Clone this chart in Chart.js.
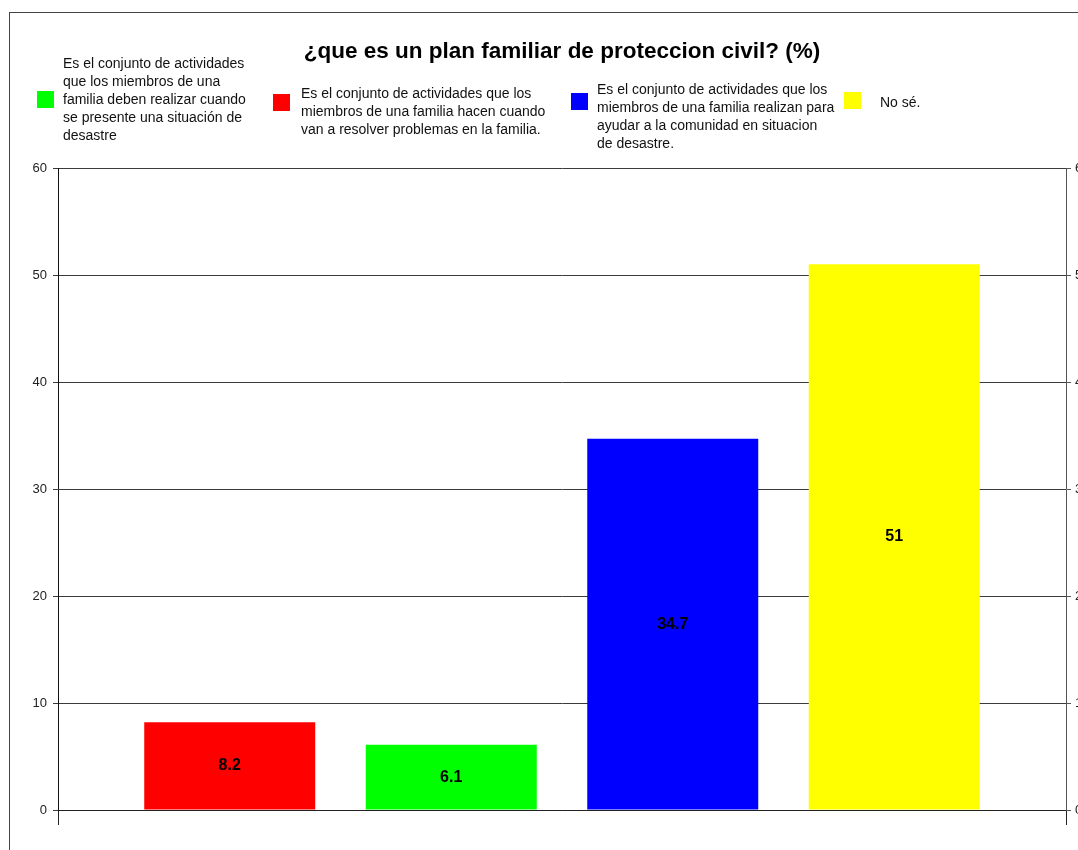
<!DOCTYPE html>
<html>
<head>
<meta charset="utf-8">
<script src="https://cdn.jsdelivr.net/npm/chart.js@4/dist/chart.umd.min.js"></script>
<style>
    body { margin: 0; overflow: hidden; background: #fff; font-family: "Liberation Sans", Arial, sans-serif; }
    #wrap { position: relative; width: 1078px; height: 850px; }
    #frame { position: absolute; left: 9px; top: 12px; right: 0; bottom: 0; border-left: 1px solid #444; border-top: 1px solid #444; pointer-events: none; }
    #chart { position: absolute; left: 0; top: 0; }
    .leg-box { position: absolute; width: 17px; height: 17px; }
    .leg-text { position: absolute; font-size: 14px; line-height: 18px; color: #111; white-space: nowrap; }
</style>
</head>
<body>
<div id="wrap">
    <canvas id="chart" width="1078" height="850"></canvas>
    <div id="frame"></div>
    <div id="legend"></div>
</div>
<script>
// datos del grafico
var categories = [''];
var seriesLabels = [
    ['Es el conjunto de actividades que los', 'miembros de una familia hacen cuando', 'van a resolver problemas en la familia.'],
    ['Es el conjunto de actividades', 'que los miembros de una', 'familia deben realizar cuando', 'se presente una situación de', 'desastre'],
    ['Es el conjunto de actividades que los', 'miembros de una familia realizan para', 'ayudar a la comunidad en situacion', 'de desastre.'],
    ['No sé.']
];
var seriesValues = [8.2, 6.1, 34.7, 51];
var seriesColors = ['#ff0000', '#00ff00', '#0000ff', '#ffff00'];
var legendOrder = [1, 0, 2, 3];
var yTickMin = 0;
var yTickMax = 60;
var yTickStep = 10;

// posicion de cada entrada de la leyenda (caja y texto)
var legendPos = [
    { bx: 37, by: 91, tx: 63, ty: 54 },
    { bx: 273, by: 94, tx: 301, ty: 84 },
    { bx: 571, by: 93, tx: 597, ty: 80 },
    { bx: 844, by: 92, tx: 880, ty: 93 }
];

function buildLegend() {
    var legend = document.getElementById('legend');
    legendOrder.forEach(function (idx, i) {
        var p = legendPos[i];
        var box = document.createElement('div');
        box.className = 'leg-box';
        box.style.left = p.bx + 'px';
        box.style.top = p.by + 'px';
        box.style.background = seriesColors[idx];
        legend.appendChild(box);

        var txt = document.createElement('div');
        txt.className = 'leg-text';
        txt.style.left = p.tx + 'px';
        txt.style.top = p.ty + 'px';
        txt.innerHTML = seriesLabels[idx].join('<br>');
        legend.appendChild(txt);
    });
}

// etiquetas de valor dentro de las barras
var barLabels = {
    id: 'barLabels',
    afterDatasetsDraw: function (chart) {
        var ctx = chart.ctx;
        ctx.save();
        ctx.font = 'bold 16px "Liberation Sans", Arial, sans-serif';
        ctx.fillStyle = '#000';
        ctx.textAlign = 'center';
        ctx.textBaseline = 'middle';
        chart.data.datasets.forEach(function (ds, i) {
            var bar = chart.getDatasetMeta(i).data[0];
            ctx.fillText(String(ds.data[0]), bar.x, (bar.y + bar.base) / 2);
        });
        ctx.restore();
    }
};

function createChart() {
    var ctx = document.getElementById('chart').getContext('2d');
    var datasets = seriesValues.map(function (v, i) {
        return {
            label: seriesLabels[i].join(' '),
            data: [v],
            backgroundColor: seriesColors[i],
            borderWidth: 0,
            categoryPercentage: 0.879,
            barPercentage: 0.772
        };
    });

    new Chart(ctx, {
        type: 'bar',
        data: { labels: categories, datasets: datasets },
        options: {
            responsive: false,
            animation: false,
            layout: { padding: 0 },
            plugins: {
                legend: { display: false },
                tooltip: { enabled: false },
                title: {
                    display: true,
                    fullSize: false,
                    text: '¿que es un plan familiar de proteccion civil? (%)',
                    color: '#000',
                    font: { family: '"Liberation Sans", Arial, sans-serif', size: 22.5, weight: 'bold' },
                    padding: { top: 38, bottom: 103 }
                }
            },
            scales: {
                x: {
                    offset: true,
                    ticks: { display: false },
                    grid: { offset: true, drawOnChartArea: false, drawTicks: true, tickLength: 15, color: '#222' },
                    border: { display: true, color: '#222' },
                    afterFit: function (s) { s.height = 40; }
                },
                y: {
                    position: 'left',
                    min: yTickMin,
                    max: yTickMax,
                    ticks: { stepSize: yTickStep, padding: 6, color: '#222', font: { family: '"Liberation Sans", Arial, sans-serif', size: 13 } },
                    grid: { color: '#3a3a3a', tickLength: 5 },
                    border: { color: '#111' },
                    afterFit: function (s) { s.width = 58; }
                },
                y2: {
                    position: 'right',
                    min: yTickMin,
                    max: yTickMax,
                    ticks: { stepSize: yTickStep, padding: 4, color: '#222', font: { family: '"Liberation Sans", Arial, sans-serif', size: 13 } },
                    grid: { drawOnChartArea: false, color: '#555', tickLength: 5 },
                    border: { color: '#555' },
                    afterFit: function (s) { s.width = 12; }
                }
            }
        },
        plugins: [barLabels]
    });
}

buildLegend();
createChart();
</script>
</body>
</html>
